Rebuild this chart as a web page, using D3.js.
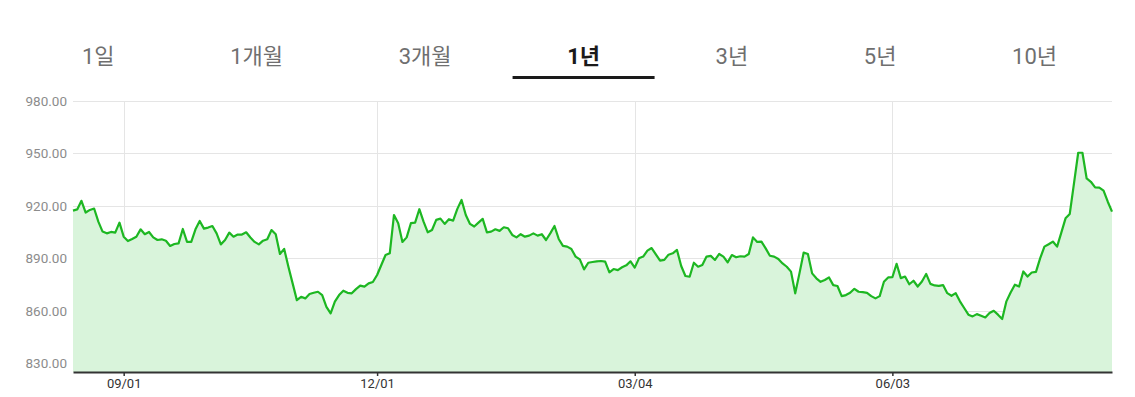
<!DOCTYPE html>
<html>
<head>
<meta charset="utf-8">
<script src="https://cdn.jsdelivr.net/npm/d3@7"></script>
<style>
  body { margin: 0; background: #fff; }
  text { font-family: Roboto, "Noto Sans CJK KR", sans-serif; }
</style>
</head>
<body>
<svg id="chart" width="1135" height="397"></svg>
<script>
// period tabs
const periods = ['1일', '1개월', '3개월', '1년', '3년', '5년', '10년'];
const activePeriod = '1년';

// daily closing values, one per trading day
const prices = [
  917.3, 918, 922.9, 916.2, 917.7, 918.5, 911, 905.3, 904.3, 905.1, 904.7, 910.4, 902.4, 899.9, 901.1, 902.4,
  906.6, 903.8, 905.1, 902, 900.5, 900.9, 900.1, 897.1, 898.2, 898.6, 906.8, 899.4, 899.4, 906.6, 911.4, 907,
  907.6, 908.5, 904.3, 898, 900.5, 904.7, 902.4, 903.6, 903.6, 904.9, 901.9, 899.4, 898, 900.1, 900.9, 906.2,
  903.8, 892.5,
  895.4, 885.2, 875.7, 866.1, 868, 867.1, 869.6, 870.3, 870.9, 869, 862.3, 858.5, 865.2, 869, 871.5, 870.3,
  870, 872.4, 874.4, 873.8, 875.7, 876.5, 880.5, 886.2, 891.9, 892.9, 914.8, 910.1, 899.4, 902, 910.1, 910.4,
  918.1, 911, 904.9, 906.2, 912, 912.7, 909.7, 912.4, 911.6, 918.3, 923.4, 914.8, 909.7, 908.2, 910.4, 912.6,
  904.9, 905.3, 906.6, 905.7, 907.8, 907.2, 903.4, 902, 903.8, 902.4, 903, 904.3, 903, 903.8, 900.5, 904.3,
  908.5, 901.1, 897.1, 896.7, 895.4, 891, 889.4, 883.7, 887.5, 887.9, 888.3, 888.5, 888.1, 882, 883.9, 883.3,
  884.9, 886, 888.3, 884.7, 890, 891, 894.4, 895.9, 892.3, 888.7, 889.1, 892.1, 892.9, 894.8, 885.6, 879.9,
  879.5, 887.5, 885.2, 886.2, 891, 891.4, 889.1, 892.5, 891, 887.7, 891.9, 890.6, 891.2, 891, 892.5, 902,
  899.4, 899.6, 895.7, 891.5, 891, 889.6, 887.1, 885.2, 882.4, 870, 881.4, 893.3, 892.5, 881.4, 878.6, 876.6,
  877.6, 879.1, 874.7, 874.2, 868.4, 869, 870.3, 872.6, 870.9, 870.7, 870.3, 868.4, 867.1, 868.4, 876.6, 879.1,
  879.2, 886.9, 878.7, 879.6, 875.2, 877.2, 873.9, 876.8, 881.1, 875.4, 874.5, 874.3, 874.7, 870.1, 868.6, 870.1,
  865.4, 861.6, 857.8, 856.8, 858.1, 857.2, 856.2, 858.7, 860, 857.8, 855.3, 865.4, 870.5, 874.9, 873.9, 882.5,
  879.6, 881.9, 882.3, 890.1, 896.7, 898.1, 899.6, 896.7, 904.7, 912.9, 915.4, 932.9, 950.4, 950.4, 935.7, 933.8,
  930.6, 930.4, 928.7, 922.4, 916.7
];

// x-axis labels and the trading-day index they sit on
const dateTicks = [12, 72, 133, 194];
const dateLabels = ['09/01', '12/01', '03/04', '06/03'];

// y-axis gridlines
const yTicks = [830, 860, 890, 920, 950, 980];

const svg = d3.select('#chart');

// ---- tabs (spread like flex space-between) ----
const tabLeft = 82, tabRight = 1057, tabBaseline = 64;
const tabs = svg.append('g').attr('class', 'tabs');
const tabText = tabs.selectAll('text')
  .data(periods)
  .join('text')
  .attr('y', tabBaseline)
  .attr('font-size', 22)
  .attr('font-weight', d => d === activePeriod ? 700 : 400)
  .attr('fill', d => d === activePeriod ? '#1a1a1a' : '#6f6f6f')
  .text(d => d);

const widths = [];
tabText.each(function() { widths.push(this.getComputedTextLength()); });
const gap = (tabRight - tabLeft - d3.sum(widths)) / (periods.length - 1);
let cursor = tabLeft;
const tabX = widths.map(w => { const x = cursor; cursor += w + gap; return x; });
tabText.attr('x', (d, i) => tabX[i]);

const ai = periods.indexOf(activePeriod);
const activeCenter = tabX[ai] + widths[ai] / 2;
tabs.append('rect')
  .attr('x', activeCenter - 71)
  .attr('y', 76)
  .attr('width', 142)
  .attr('height', 3)
  .attr('fill', '#1a1a1a');

// ---- chart ----
const plot = {left: 73, right: 1112, top: 101, bottom: 372};

const x = d3.scaleLinear()
  .domain([0, prices.length - 1])
  .range([plot.left, plot.right]);

const y = d3.scaleLinear()
  .domain([825, 980])
  .range([plot.bottom, plot.top]);

const g = svg.append('g');

// horizontal gridlines
g.append('g')
  .selectAll('line')
  .data(yTicks)
  .join('line')
  .attr('x1', plot.left)
  .attr('x2', plot.right)
  .attr('y1', d => Math.round(y(d)) + 0.5)
  .attr('y2', d => Math.round(y(d)) + 0.5)
  .attr('stroke', '#e5e5e5');

// vertical gridlines
g.append('g')
  .selectAll('line')
  .data(dateTicks)
  .join('line')
  .attr('x1', d => Math.round(x(d)) + 0.5)
  .attr('x2', d => Math.round(x(d)) + 0.5)
  .attr('y1', plot.top)
  .attr('y2', plot.bottom)
  .attr('stroke', '#e5e5e5');

// area + line
const area = d3.area()
  .x((d, i) => x(i))
  .y0(plot.bottom)
  .y1(d => y(d));

const line = d3.line()
  .x((d, i) => x(i))
  .y(d => y(d));

g.append('path')
  .datum(prices)
  .attr('d', area)
  .attr('fill', '#d9f4db');

g.append('path')
  .datum(prices)
  .attr('d', line)
  .attr('fill', 'none')
  .attr('stroke', '#1db722')
  .attr('stroke-width', 2.2)
  .attr('stroke-linejoin', 'round');

// y labels
g.append('g')
  .selectAll('text')
  .data(yTicks)
  .join('text')
  .attr('x', 67)
  .attr('y', d => y(d))
  .attr('dy', '0.35em')
  .attr('text-anchor', 'end')
  .attr('font-size', 13.5)
  .attr('fill', '#8c8c8c')
  .text(d => d3.format('.2f')(d));

// bottom axis
const xAxis = d3.axisBottom(x)
  .tickValues(dateTicks)
  .tickFormat((d, i) => dateLabels[i])
  .tickSize(4)
  .tickPadding(3)
  .tickSizeOuter(0);

const ax = g.append('g')
  .attr('transform', 'translate(0,' + plot.bottom + ')')
  .call(xAxis);

ax.select('.domain').attr('stroke', '#333').attr('stroke-width', 2);
ax.selectAll('.tick line').attr('stroke', '#333').attr('stroke-width', 1.5);
ax.selectAll('.tick text')
  .attr('font-size', 13)
  .attr('font-family', 'Roboto, sans-serif')
  .attr('fill', '#333');
</script>
</body>
</html>
